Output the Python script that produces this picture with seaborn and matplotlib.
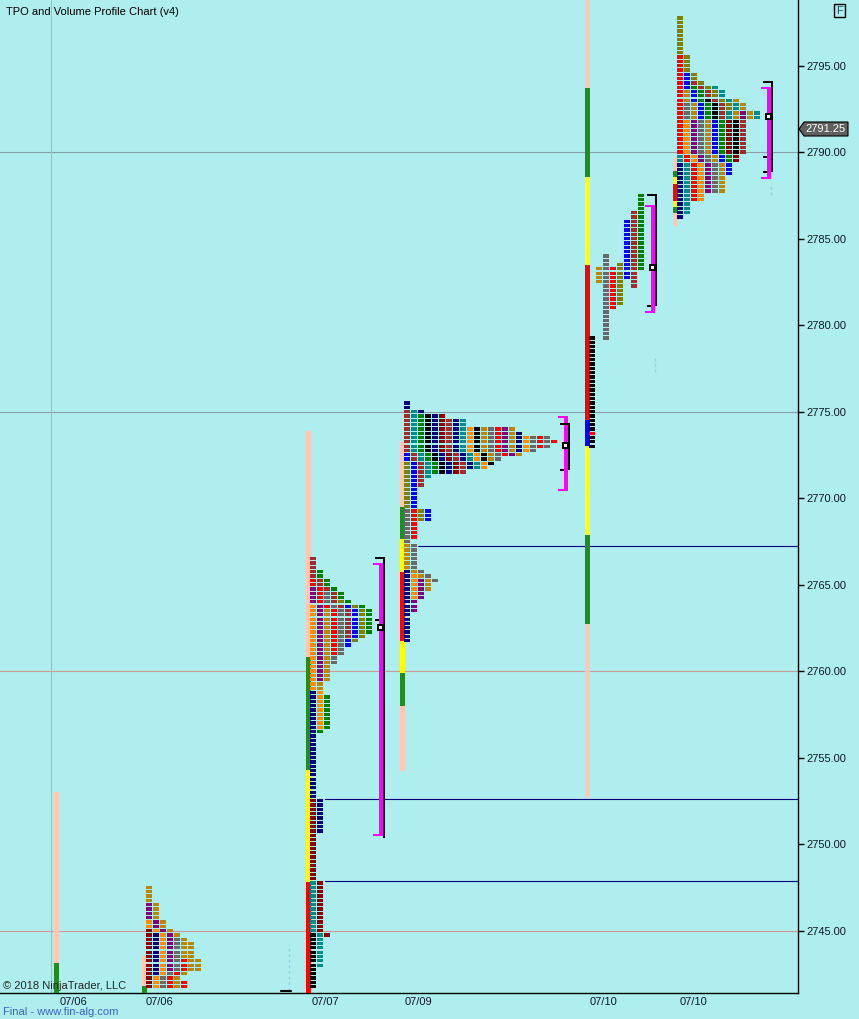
import numpy as np
import pandas as pd
import matplotlib
matplotlib.use("Agg")
import matplotlib.pyplot as plt
from matplotlib.patches import Polygon
import seaborn as sns

W, H = 859, 1019

# ---------------- data ----------------
title = "TPO and Volume Profile Chart (v4)"
date_labels = ["07/06", "07/06", "07/07", "07/09", "07/10", "07/10"]
date_label_x = [73, 160, 325, 418, 604, 693]
price_ticks = [2745, 2750, 2755, 2760, 2765, 2770, 2775, 2780, 2785, 2790, 2795]
last_price = 2791.25
price_lo, price_hi = 2741.39, 2798.79

colors = {
    "P": "#FFC8B4", "G": "#228B22", "Y": "#FFFF00", "R": "#FF0000", "B": "#0000FF",
    "black": "#000000", "teal": "#008B8B", "navy": "#000080", "darkred": "#8B0000",
    "brown": "#A52A2A", "red": "#FF0000", "orange": "#FF8C00", "green": "#008000",
    "purple": "#800080", "olive": "#808000", "gold": "#B8860B", "gray": "#696969",
    "blue": "#0000FF",
}

# range bar of each session: left edge and (colour, low, high) segments
bar_x = [54, 142, 306, 400, 585, 673]
bar_segments = [
    [("G", 2741.3, 2743.1), ("P", 2743.1, 2753.0)],
    [("G", 2741.3, 2741.8), ("P", 2741.8, 2743.55)],
    [("R", 2741.3, 2747.8), ("Y", 2747.8, 2754.3), ("G", 2754.3, 2760.8), ("P", 2760.8, 2773.9)],
    [("P", 2754.25, 2758.0), ("G", 2758.0, 2759.9), ("Y", 2759.9, 2761.75), ("R", 2761.75, 2765.75),
     ("Y", 2765.75, 2767.65), ("G", 2767.65, 2769.5), ("P", 2769.5, 2773.25)],
    [("P", 2752.65, 2762.7), ("G", 2762.7, 2767.85), ("Y", 2767.85, 2773.0), ("B", 2773.0, 2774.5),
     ("R", 2774.5, 2783.45), ("Y", 2783.45, 2788.55), ("G", 2788.55, 2793.7), ("P", 2793.7, 2798.8)],
    [("P", 2785.7, 2786.45), ("G", 2786.45, 2786.85), ("Y", 2786.85, 2787.2), ("R", 2787.2, 2788.15),
     ("Y", 2788.15, 2788.55), ("G", 2788.55, 2788.9), ("P", 2788.9, 2789.65)],
]

# TPO periods (colour, low, high) in time order, collapsed profiles
s2_periods = [
    ("darkred", 2741.75, 2745.0), ("navy", 2742.5, 2744.75), ("orange", 2741.75, 2745.5),
    ("purple", 2742.75, 2746.5), ("gray", 2741.75, 2744.5), ("red", 2741.75, 2743.25),
    ("gold", 2741.75, 2747.5), ("red", 2741.75, 2742.0), ("gold", 2742.75, 2744.25),
]
s3_periods = [
    ("black", 2741.75, 2744.75), ("teal", 2743.0, 2747.75), ("darkred", 2744.75, 2752.5),
    ("navy", 2750.75, 2758.75), ("orange", 2756.75, 2763.75), ("green", 2756.5, 2758.5),
    ("purple", 2759.5, 2764.75), ("gold", 2759.0, 2763.5), ("red", 2761.0, 2765.25),
    ("gray", 2760.5, 2764.5), ("brown", 2762.0, 2766.5), ("blue", 2761.5, 2763.75),
    ("olive", 2761.75, 2764.0), ("green", 2762.25, 2765.75),
]
s4_periods = [
    ("navy", 2761.75, 2765.75), ("orange", 2764.25, 2765.5), ("purple", 2763.5, 2765.25),
    ("gold", 2764.75, 2767.25), ("gray", 2765.25, 2769.25), ("red", 2767.75, 2769.25),
    ("olive", 2768.75, 2772.0), ("blue", 2768.75, 2772.5),
    ("brown", 2770.75, 2775.0), ("teal", 2771.25, 2775.0), ("green", 2771.5, 2774.75),
    ("black", 2771.5, 2774.75), ("navy", 2771.5, 2774.75), ("darkred", 2771.5, 2774.75),
    ("brown", 2771.5, 2774.5), ("navy", 2771.75, 2774.5), ("teal", 2771.75, 2774.5),
    ("orange", 2771.75, 2774.0), ("black", 2772.0, 2774.0), ("gold", 2772.25, 2774.0),
    ("gray", 2772.25, 2774.0), ("red", 2772.5, 2774.0), ("purple", 2772.5, 2774.0),
    ("gold", 2772.5, 2774.0), ("navy", 2772.75, 2773.75), ("orange", 2772.75, 2773.5),
    ("gray", 2772.75, 2773.5), ("red", 2773.0, 2773.5), ("gray", 2773.0, 2773.5),
    ("red", 2773.25, 2773.25), ("navy", 2775.0, 2775.5),
]
s6_periods = [
    ("navy", 2786.25, 2789.25), ("teal", 2786.5, 2789.75), ("red", 2787.25, 2795.5),
    ("orange", 2787.25, 2791.75), ("purple", 2787.75, 2791.75), ("gray", 2787.75, 2792.75),
    ("gold", 2787.75, 2793.5), ("blue", 2788.75, 2794.5), ("green", 2789.5, 2793.75),
    ("darkred", 2789.5, 2791.75), ("black", 2790.0, 2793.0), ("brown", 2790.0, 2794.0),
    ("olive", 2792.5, 2797.75), ("teal", 2792.0, 2793.75), ("gold", 2792.0, 2793.0),
    ("purple", 2792.0, 2792.25), ("gold", 2792.0, 2792.25), ("teal", 2792.0, 2792.25),
]
collapsed = {1: s2_periods, 2: s3_periods, 3: s4_periods, 5: s6_periods}

# split profile (07/10 first): column, colour, low, high
s5_columns = [
    (0, "black", 2773.0, 2779.25), (0, "red", 2773.75, 2773.75), (1, "gold", 2782.5, 2783.25),
    (2, "gray", 2779.25, 2784.0), (3, "red", 2781.0, 2783.25), (4, "olive", 2781.25, 2783.5),
    (5, "blue", 2782.75, 2786.0), (6, "brown", 2782.25, 2786.5), (7, "green", 2783.25, 2787.5),
]

# value-area brackets
bracket_x = [379, 564, 651, 767]
va_low = [2750.46, 2770.4, 2780.69, 2788.44]
va_high = [2766.24, 2774.74, 2786.94, 2793.76]
vol_low = [2750.35, 2771.62, 2781.1, 2788.84]
vol_high = [2766.47, 2774.22, 2787.46, 2793.99]
poc = [2762.54, 2773.06, 2783.3, 2792.08]
vol_ticks = [[2762.95], [2771.62], [2781.1], [2789.71, 2788.84]]

grid_prices = [2790, 2775, 2760, 2745]
grid_colors = ["#8a9fa6", "#8a9fa6", "#cc9898", "#cc9898"]
level_prices = [2767.23, 2752.6, 2747.87]
level_start_x = [418, 325, 325]

# ---------------- build rectangles ----------------
px = (price_hi - price_lo) / 993.0   # price per pixel
cell_h = 0.19
rects = []
for i, segs in enumerate(bar_segments):
    for c, lo, hi in segs:
        rects.append((bar_x[i], 4.5, lo, hi - lo, colors[c]))

for i, periods in collapsed.items():
    x0 = bar_x[i] + 4
    lo_all = min(p[1] for p in periods)
    hi_all = max(p[2] for p in periods)
    for price in np.arange(lo_all, hi_all + 0.01, 0.25):
        row = [c for c, lo, hi in periods if lo - 1e-6 <= price <= hi + 1e-6]
        for k, c in enumerate(row):
            rects.append((x0 + 7 * k, 6, price - cell_h / 2, cell_h, colors[c]))

x0 = bar_x[4] + 4
for col, c, lo, hi in s5_columns:
    for price in np.arange(lo, hi + 0.01, 0.25):
        rects.append((x0 + 7 * col, 6, price - cell_h / 2, cell_h, colors[c]))

for i, x in enumerate(bracket_x):
    mag, blk = "#FF00FF", "#000000"
    rects.append((x, 4, va_low[i], va_high[i] - va_low[i], mag))
    rects.append((x - 6, 10, va_high[i] - 2 * px, 2 * px, mag))
    rects.append((x - 6, 10, va_low[i], 2 * px, mag))
    rects.append((x + 4, 2, vol_low[i], vol_high[i] - vol_low[i], blk))
    rects.append((x - 4, 10, vol_high[i], 2 * px, blk))
    for t in vol_ticks[i]:
        rects.append((x - 4, 4, t - px, 2 * px, blk))
    rects.append((x - 2, 7, poc[i] - 3.5 * px, 7 * px, blk))
    rects.append((x, 3, poc[i] - 1.5 * px, 3 * px, "#FFFFFF"))

df = pd.DataFrame(rects, columns=["x", "w", "bottom", "h", "color"])

# ---------------- plot ----------------
sns.set_theme(style="white", rc={"axes.facecolor": "#AFEEEE", "figure.facecolor": "#AFEEEE"})
plt.rcParams["font.family"] = ["Liberation Sans", "DejaVu Sans"]

fig = plt.figure(figsize=(W / 100, H / 100), dpi=100)
ax = fig.add_axes([0, 26 / H, 798 / W, 993 / H])
ax.set_xlim(0, 798)
ax.set_ylim(price_lo, price_hi)

for p, c in zip(grid_prices, grid_colors):
    ax.axhline(p, color=c, lw=0.8, zorder=1)
ax.axvline(51, color="#d4a8a8", lw=0.8, zorder=1)
for p, xs in zip(level_prices, level_start_x):
    ax.plot([xs, 798], [p, p], color="#000080", lw=0.8, zorder=1)

# faint overnight marks
ax.plot([289, 289], [2741.56, 2744.16], color="#a8c4f0", lw=1, ls=(0, (2, 2)), zorder=1)
ax.plot([655, 655], [2777.28, 2778.26], color="#a8c4f0", lw=1, ls=(0, (2, 2)), zorder=1)
ax.plot([771, 771], [2787.5, 2788.2], color="#a8c4f0", lw=1, ls=(0, (2, 2)), zorder=1)
ax.plot([281, 291], [2741.5, 2741.5], color="black", lw=1.5, zorder=2)

ax.bar(df["x"], df["h"], width=df["w"], bottom=df["bottom"], color=df["color"],
       align="edge", linewidth=0, zorder=3)

for s in ["top", "left"]:
    ax.spines[s].set_visible(False)
for s in ["right", "bottom"]:
    ax.spines[s].set_color("black")
    ax.spines[s].set_linewidth(1)

ax.yaxis.tick_right()
ax.set_yticks(price_ticks)
ax.set_yticklabels([f"{p:.2f}" for p in price_ticks])
ax.tick_params(axis="y", length=4, width=1, color="black", labelsize=8, pad=2,
               labelcolor="#101828", right=True, direction="out")
ax.set_xticks(date_label_x)
ax.set_xticklabels(date_labels)
ax.tick_params(axis="x", length=0, labelsize=8, pad=3, labelcolor="#101828")
ax.grid(False)

fig.text(6 / W, 1 - 12 / H, title, fontsize=8, va="center", ha="left", color="black")
fig.text(3 / W, 1 - 986 / H, "\u00a9 2018 NinjaTrader, LLC", fontsize=8, va="center", ha="left")
fig.text(3 / W, 1 - 1012 / H, "Final - www.fin-alg.com", fontsize=8, va="center", ha="left",
         color="#3a64c8")
fig.text(839.5 / W, 1 - 10.5 / H, "F", fontsize=8, va="center", ha="center", color="#1a5060",
         bbox=dict(boxstyle="square,pad=0.15", fc="none", ec="black", lw=1))

# last price marker
pts = np.array([(799, 129), (804, 122), (848, 122), (848, 136), (804, 136)], dtype=float)
pts[:, 0] /= W
pts[:, 1] = 1 - pts[:, 1] / H
fig.patches.append(Polygon(pts, closed=True, transform=fig.transFigure, fc="#5f5f5f",
                           ec="black", lw=0.8, figure=fig))
fig.text(826 / W, 1 - 129 / H, f"{last_price:.2f}", fontsize=8, va="center", ha="center",
         color="white")

fig.savefig("out.png", dpi=100)
